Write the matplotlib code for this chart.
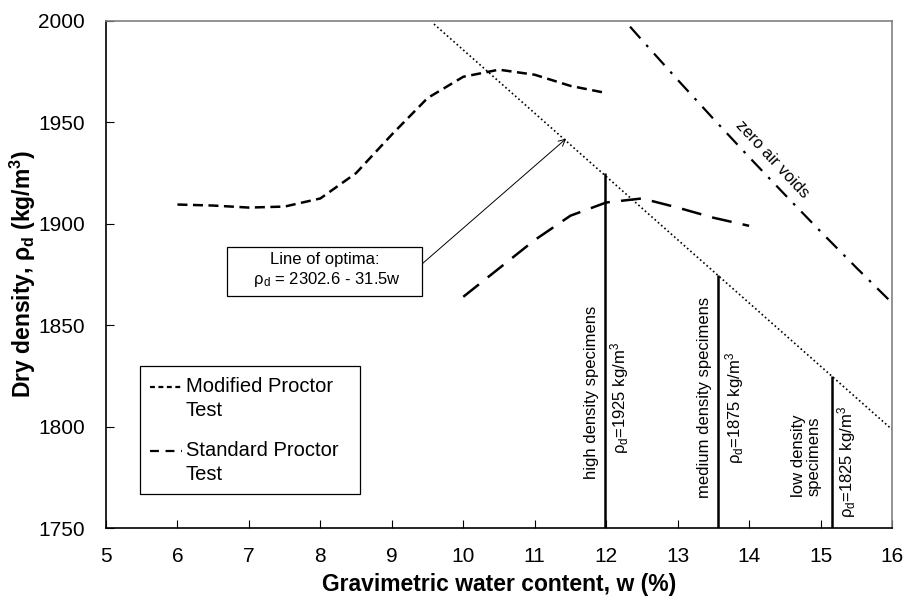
import matplotlib
matplotlib.use("Agg")
import matplotlib.pyplot as plt
from matplotlib.patches import Rectangle
from matplotlib.lines import Line2D

plt.rcParams['font.family'] = ['Liberation Sans', 'DejaVu Sans']
plt.rcParams['mathtext.fontset'] = 'custom'
plt.rcParams['mathtext.default'] = 'regular'
plt.rcParams['mathtext.rm'] = 'Liberation Sans'

# ---- data ----
mod_w = [6.0, 6.5, 7.0, 7.5, 8.0, 8.5, 9.0, 9.5, 10.0, 10.5, 11.0, 11.5, 12.0]
mod_rho = [1909.5, 1909.0, 1908.0, 1908.5, 1912.5, 1925.0, 1944.0, 1962.0, 1972.5, 1976.0, 1973.5, 1968.0, 1964.5]

std_w = [10.0, 10.5, 11.0, 11.5, 12.0, 12.5, 13.0, 13.5, 14.0]
std_rho = [1864.0, 1878.0, 1892.0, 1904.0, 1910.5, 1912.5, 1908.0, 1903.0, 1899.0]

zav_w = [12.0, 12.5, 13.0, 13.5, 14.0, 14.5, 15.0, 15.5, 16.0]
zav_rho = [2010.5, 1990.6, 1971.0, 1951.8, 1932.9, 1914.4, 1896.2, 1878.4, 1861.0]

opt_w = [9.59, 16.0]
opt_rho = [1998.5, 1798.6]

spec_w = [11.99, 13.57, 15.16]
spec_rho = [1925, 1875, 1825]

xticks = list(range(5, 17))
yticks = [1750, 1800, 1850, 1900, 1950, 2000]

fig = plt.figure(figsize=(9.08, 6.05), dpi=100)
ax = fig.add_axes([106/908, 1-528/605, 786/908, 507/605])

ax.plot(mod_w, mod_rho, color='black', lw=1.8, linestyle=(0, (4, 2.2)))
ax.plot(std_w, std_rho, color='black', lw=1.8, linestyle=(0, (8, 4.5)))
ax.plot(zav_w, zav_rho, color='black', lw=1.6, linestyle=(0, (7, 4, 1.2, 4)))
ax.plot(opt_w, opt_rho, color='black', lw=1.2, linestyle=(0, (1, 1.6)))
ax.vlines(spec_w, 1750, spec_rho, color='black', lw=1.8)

ax.set_xlim(5, 16)
ax.set_ylim(1750, 2000)
ax.set_xticks(xticks)
ax.set_yticks(yticks)
ax.tick_params(direction='in', length=6, width=0.8, labelsize=15)
ax.tick_params(axis='x', pad=14)
ax.tick_params(axis='y', pad=15)
for s in ['top', 'right']:
    ax.spines[s].set_color('#808080')
    ax.spines[s].set_linewidth(1.2)
for s in ['left', 'bottom']:
    ax.spines[s].set_linewidth(1.2)

ax.set_xlabel('Gravimetric water content, w (%)', fontsize=16.5, fontweight='bold', labelpad=5)
ax.set_ylabel('Dry density, ρ$_d$ (kg/m$^3$)', fontsize=16.5, fontweight='bold', labelpad=0)

# annotations
fs = 12
ax.annotate('Line of optima:\n    ρ$_d$ = 2302.6 - 31.5w    ', xy=(11.44, 1942.0), xytext=(8.06, 1877.0),
            ha='center', va='center', fontsize=fs, multialignment='center',
            bbox=dict(boxstyle='square,pad=0.45', fc='white', ec='black', lw=0.9),
            arrowprops=dict(arrowstyle='->', color='black', lw=0.7, relpos=(1.0, 0.5),
                            shrinkA=0, shrinkB=0))

ax.text(14.32, 1932, 'zero air voids', rotation=-47, ha='center', va='center', fontsize=fs)

ax.text(11.80, 1817, 'high density specimens', rotation=90, ha='center', va='center', fontsize=fs)
ax.text(12.19, 1814, 'ρ$_d$=1925 kg/m$^3$', rotation=90, ha='center', va='center', fontsize=fs)
ax.text(13.38, 1814.5, 'medium density specimens', rotation=90, ha='center', va='center', fontsize=fs)
ax.text(13.79, 1809, 'ρ$_d$=1875 kg/m$^3$', rotation=90, ha='center', va='center', fontsize=fs)
ax.text(14.80, 1785.5, 'low density\nspecimens', rotation=90, ha='center', va='center',
        fontsize=fs, multialignment='center', linespacing=1.1)
ax.text(15.37, 1782.5, 'ρ$_d$=1825 kg/m$^3$', rotation=90, ha='center', va='center', fontsize=fs)

# manual legend (axes fraction)
T = ax.transAxes
def xpx(p):
    return (p-106)/786
def ypx(p):
    return (528-p)/507
ax.add_patch(Rectangle((xpx(140), ypx(494)), xpx(360)-xpx(140), ypx(366)-ypx(494), transform=T,
                       fc='white', ec='black', lw=0.9, zorder=5))
lfs = 14.5
ax.add_line(Line2D([xpx(150), xpx(182)], [ypx(387), ypx(387)], transform=T, color='black', lw=1.6,
                   linestyle=(0, (2.2, 1.6)), zorder=6))
ax.text(xpx(186), ypx(387), 'Modified Proctor', transform=T, ha='left', va='center', fontsize=lfs, zorder=6)
ax.text(xpx(186), ypx(411), 'Test', transform=T, ha='left', va='center', fontsize=lfs, zorder=6)
ax.add_line(Line2D([xpx(150), xpx(182)], [ypx(451), ypx(451)], transform=T, color='black', lw=1.6,
                   linestyle=(0, (4, 3)), zorder=6))
ax.text(xpx(186), ypx(451), 'Standard Proctor', transform=T, ha='left', va='center', fontsize=lfs, zorder=6)
ax.text(xpx(186), ypx(475), 'Test', transform=T, ha='left', va='center', fontsize=lfs, zorder=6)

fig.savefig('out.png', dpi=100)
